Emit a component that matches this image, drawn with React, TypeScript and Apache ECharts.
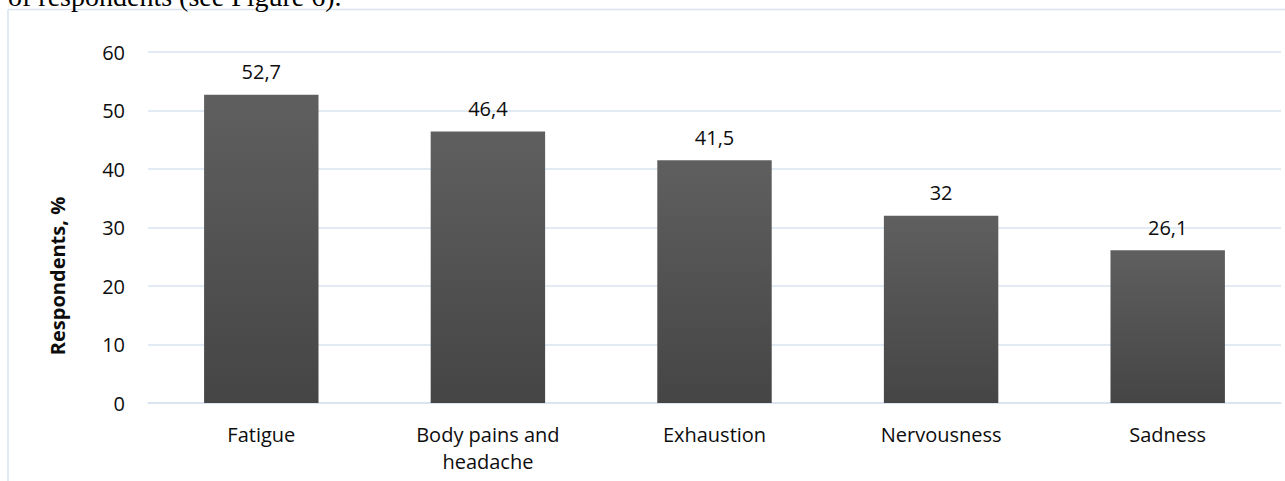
import React, { useEffect, useRef } from "react";
import * as echarts from "echarts";

const categories: string[] = ["Fatigue", "Body pains and\nheadache", "Exhaustion", "Nervousness", "Sadness"];
const respondents: number[] = [52.7, 46.4, 41.5, 32, 26.1];
const yTicks = { min: 0, max: 60, interval: 10 };
const yAxisTitle = "Respondents, %";
const precedingText = "of respondents (see Figure 6).";

const FONT = "'Open Sans', Lato, sans-serif";
const TEXT_COLOR = "#0d0d0d";
const GRID_COLOR = "#d9e3f1";

export default function App() {
  const ref = useRef<HTMLDivElement>(null);

  useEffect(() => {
    if (!ref.current) return;
    const chart = echarts.init(ref.current, undefined, { renderer: "svg" });
    chart.setOption({
      animation: false,
      backgroundColor: "#ffffff",
      grid: { left: 148, right: 4, top: 52, bottom: 78 },
      xAxis: {
        type: "category",
        data: categories,
        axisLine: { show: true, lineStyle: { color: GRID_COLOR, width: 1.5 } },
        axisTick: { show: false },
        axisLabel: {
          color: TEXT_COLOR,
          fontFamily: FONT,
          fontSize: 20,
          lineHeight: 27,
          margin: 18,
          interval: 0,
        },
      },
      yAxis: {
        type: "value",
        min: yTicks.min,
        max: yTicks.max,
        interval: yTicks.interval,
        axisLine: { show: false },
        axisTick: { show: false },
        splitLine: { lineStyle: { color: GRID_COLOR, width: 1.5 } },
        axisLabel: {
          color: TEXT_COLOR,
          fontFamily: FONT,
          fontSize: 20,
          margin: 23,
        },
      },
      series: [
        {
          type: "bar",
          data: respondents,
          barWidth: "50.5%",
          itemStyle: {
            color: new echarts.graphic.LinearGradient(0, 0, 0, 1, [
              { offset: 0, color: "#5f5f5f" },
              { offset: 1, color: "#454545" },
            ]),
          },
          label: {
            show: true,
            position: "top",
            distance: 13,
            color: TEXT_COLOR,
            fontFamily: FONT,
            fontSize: 20,
            formatter: (p: any) => String(p.value).replace(".", ","),
          },
        },
      ],
      graphic: [
        {
          type: "line",
          shape: { x1: 8, y1: 9.5, x2: 1285, y2: 9.5 },
          style: { stroke: GRID_COLOR, lineWidth: 1.5 },
        },
        {
          type: "line",
          shape: { x1: 8, y1: 9.5, x2: 8, y2: 481 },
          style: { stroke: GRID_COLOR, lineWidth: 1.5 },
        },
        {
          type: "text",
          x: 57,
          y: 276,
          rotation: Math.PI / 2,
          style: {
            text: yAxisTitle,
            fill: TEXT_COLOR,
            font: `bold 20px ${FONT}`,
            align: "center",
            verticalAlign: "middle",
          },
        },
        {
          type: "text",
          x: 8,
          y: -3.5,
          style: {
            text: precedingText,
            fill: "#000000",
            font: "28px 'Liberation Serif', 'Times New Roman', serif",
            align: "left",
            verticalAlign: "middle",
          },
        },
      ],
    });
    return () => chart.dispose();
  }, []);

  return (
    <div
      ref={ref}
      style={{ position: "fixed", left: 0, top: 0, width: 1285, height: 481 }}
    />
  );
}
